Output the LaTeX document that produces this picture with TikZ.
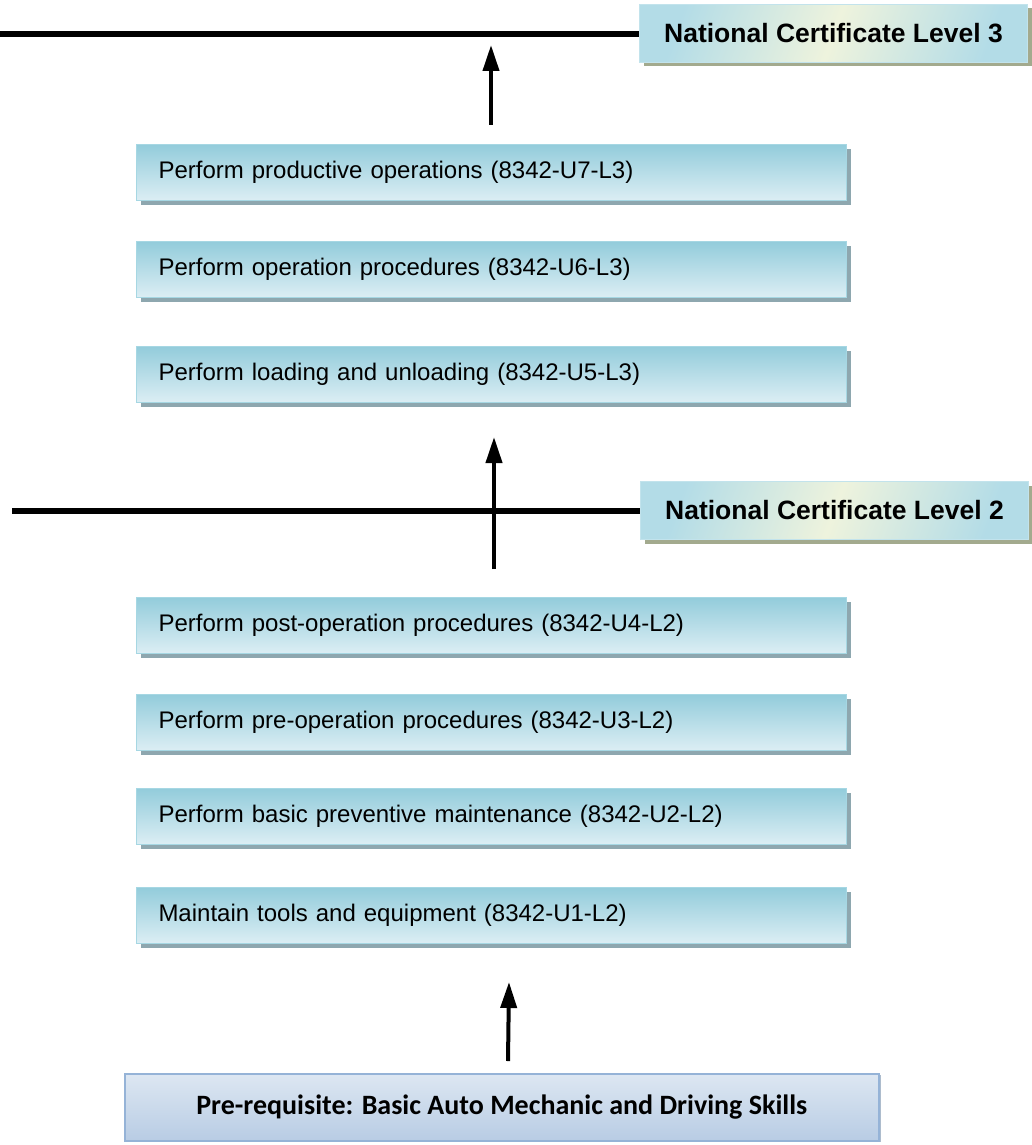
\documentclass[tikz,border=0pt]{standalone}
\usepackage{fontspec}
\setmainfont{Liberation Sans}
\newfontfamily\calib{Carlito}
\usetikzlibrary{arrows.meta,shadows}
\definecolor{unittop}{HTML}{93CCDB}
\definecolor{unitbot}{HTML}{DCEEF4}
\definecolor{unitdraw}{HTML}{A6D7E3}
\definecolor{unitshadow}{HTML}{8EA7AF}
\definecolor{ncblue}{HTML}{B3DCE7}
\definecolor{nccream}{HTML}{EEF3DD}
\definecolor{ncshadow}{HTML}{A3AA8E}
\definecolor{pretop}{HTML}{DDE7F2}
\definecolor{prebot}{HTML}{B8CCE4}
\definecolor{predraw}{HTML}{95B3D7}
\tikzset{
  unitbox/.style={draw=unitdraw, line width=1pt, top color=unittop, bottom color=unitbot,
    minimum width=710pt, minimum height=56pt, inner xsep=22pt, inner ysep=0pt,
    text width=666pt, align=left, anchor=north west,
    font=\fontsize{24pt}{28pt}\selectfont,
    drop shadow={shadow xshift=4pt, shadow yshift=-4pt, fill=unitshadow, opacity=1}},
  ncbox/.style={draw=ncblue!80!white, line width=1pt, shading=axis, top color=ncblue, bottom color=ncblue,
    middle color=nccream, shading angle=70,
    minimum width=388pt, minimum height=58pt, inner sep=0pt, anchor=north west,
    font=\bfseries\fontsize{26.5pt}{30pt}\selectfont,
    drop shadow={shadow xshift=4pt, shadow yshift=-4pt, fill=ncshadow, opacity=1}},
  prebox/.style={draw=predraw, line width=1.5pt, top color=pretop, bottom color=prebot,
    minimum width=754pt, minimum height=67pt, inner sep=0pt, anchor=north west,
    font=\calib\bfseries\fontsize{28pt}{32pt}\selectfont,
    drop shadow={shadow xshift=2pt, shadow yshift=-1pt, fill=predraw!80!black, opacity=0.6}},
  levelline/.style={line width=5.5pt},
  uparrow/.style={line width=4pt, -{Triangle[length=26pt,width=16pt]}}
}
\begin{document}
\begin{tikzpicture}[x=1pt,y=-1pt]
\useasboundingbox (0,0) rectangle (1032,1145);
% level 3
\node[ncbox] (nc3) at (639,4) {National Certificate Level 3};
\coordinate (l3) at (0,34);
\draw[levelline] (l3) -- (l3 -| nc3.west);
\node[unitbox] (u7) at (136,144) {Perform productive operations (8342-U7-L3)};
\node[unitbox] (u6) at (136,241) {Perform operation procedures (8342-U6-L3)};
\node[unitbox] (u5) at (136,346) {Perform loading and unloading (8342-U5-L3)};
\coordinate (a1s) at (491,125);
\coordinate (a1e) at (491,45);
\draw[uparrow] (a1s) -- (a1e);
% level 2
\node[ncbox] (nc2) at (640,481) {National Certificate Level 2};
\coordinate (l2) at (12,511);
\draw[levelline] (l2) -- (l2 -| nc2.west);
\coordinate (a2s) at (494,569);
\coordinate (a2e) at (494,437);
\draw[uparrow] (a2s) -- (a2e);
\node[unitbox] (u4) at (136,597) {Perform post-operation procedures (8342-U4-L2)};
\node[unitbox] (u3) at (136,694) {Perform pre-operation procedures (8342-U3-L2)};
\node[unitbox] (u2) at (136,788) {Perform basic preventive maintenance (8342-U2-L2)};
\node[unitbox] (u1) at (136,887) {Maintain tools and equipment (8342-U1-L2)};
\coordinate (a3s) at (508,1061);
\coordinate (a3e) at (509,982);
\draw[uparrow] (a3s) -- (a3e);
\node[prebox] (pre) at (124,1073) {Pre-requisite: Basic Auto Mechanic and Driving Skills};
\end{tikzpicture}
\end{document}
